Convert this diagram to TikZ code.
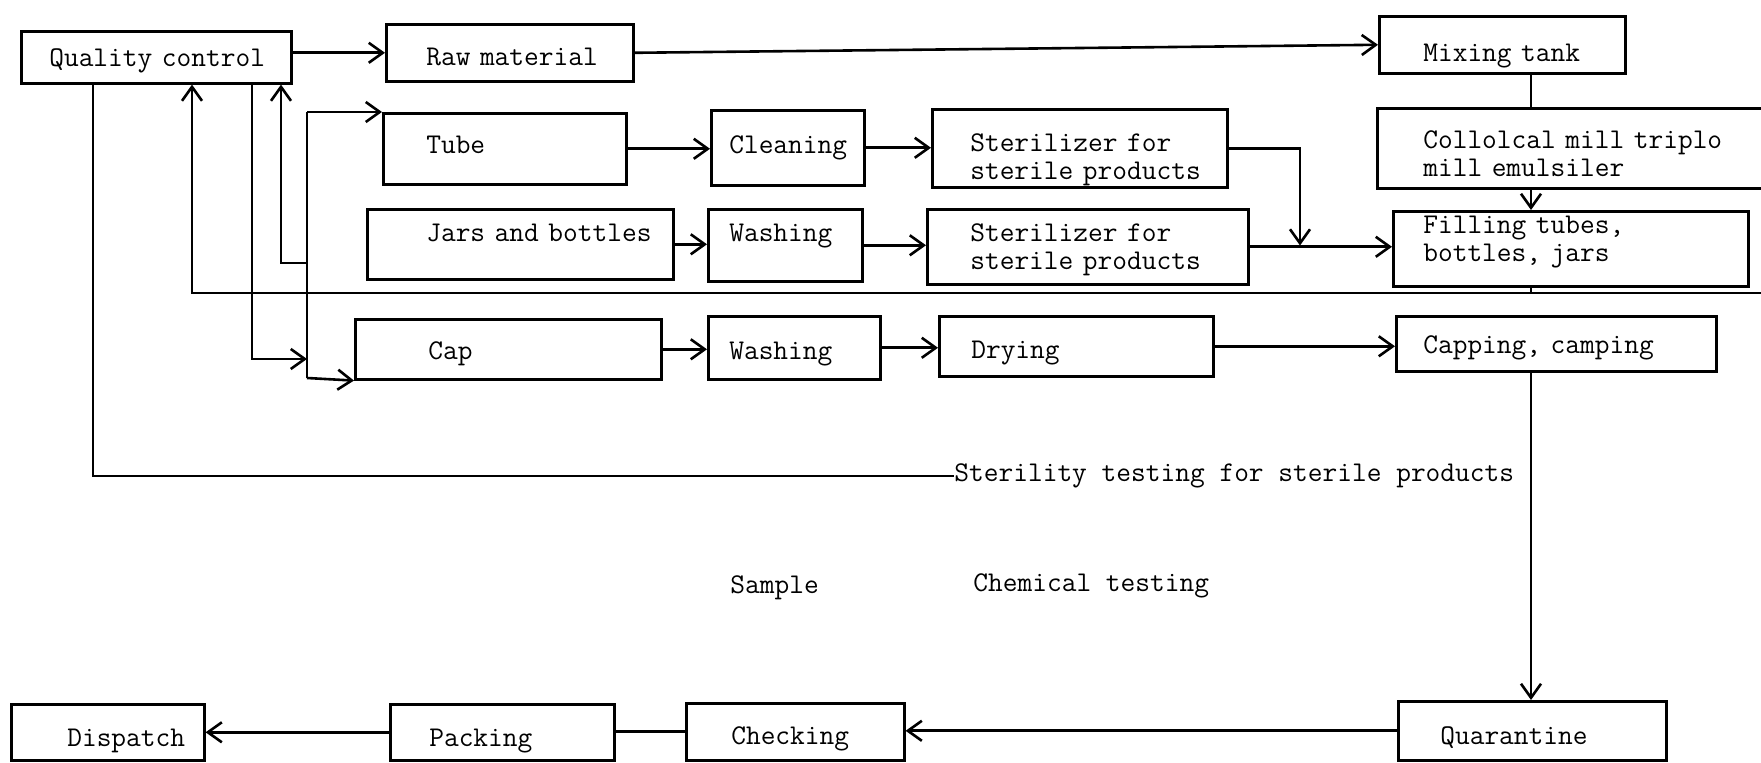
\documentclass[tikz,border=0pt]{standalone}
\usepackage{tikz}
\usetikzlibrary{arrows.meta}
\newdimen\pxu \pxu=0.5pt

\begin{document}
\begin{tikzpicture}[
    x=0.5pt, y=-0.5pt,
    font=\fontsize{14.3pt}{14pt}\selectfont\ttfamily,
    procbox/.style n args={4}{draw, line width=1.3pt, anchor=north west, inner xsep=0pt, inner ysep=0pt,
        align=left, text width=#1*\pxu, text height=#4*\pxu, text depth=(#2-#4)*\pxu,
        execute at begin node={\leftskip=#3\pxu\relax}},
    flow/.style={line width=1.3pt, -{Straight Barb[length=7pt,width=10pt]}},
    link/.style={line width=1.3pt},
    thinflow/.style={line width=0.8pt, -{Straight Barb[length=7pt,width=10pt,line width=1.3pt]}},
    plain/.style={anchor=west, inner sep=0pt}
]
\useasboundingbox (0,0) rectangle (1761,763);

\node [procbox={270}{52}{28}{35}] (qc) at (20,30) {Quality control};
\node [procbox={247}{57}{40}{41}] (raw) at (385,23) {Raw material};
\node [procbox={246}{57}{44}{45}] (mix) at (1378,15) {Mixing tank};
\node [procbox={243}{71}{43}{40}] (tube) at (382,112) {Tube};
\node [procbox={153}{75}{18}{43}] (clean) at (710,109) {Cleaning};
\node [procbox={295}{78}{38}{42}] (ster1) at (931,108) {Sterilizer for\\sterile products};
\node [procbox={399}{80}{46}{40}] (colloid) at (1376,107) {Collolcal mill triplo\\mill emulsiler};
\node [procbox={306}{70}{59}{32}] (jars) at (366,208) {Jars and bottles};
\node [procbox={154}{72}{21}{32}] (wash1) at (707,208) {Washing};
\node [procbox={321}{75}{43}{32}] (ster2) at (926,208) {Sterilizer for\\sterile products};
\node [procbox={355}{75}{30}{22}] (fill) at (1392,210) {Filling tubes,\\bottles, jars};
\node [procbox={306}{60}{73}{40}] (cap) at (354,318) {Cap};
\node [procbox={172}{63}{21}{43}] (wash2) at (707,315) {Washing};
\node [procbox={274}{60}{32}{42}] (dry) at (938,315) {Drying};
\node [procbox={320}{55}{27}{37}] (capping) at (1395,315) {Capping, camping};
\node [procbox={268}{59}{42}{43}] (quar) at (1397,700) {Quarantine};
\node [procbox={218}{57}{45}{41}] (check) at (685,702) {Checking};
\node [procbox={224}{56}{39}{42}] (pack) at (389,703) {Packing};
\node [procbox={193}{56}{56}{42}] (disp) at (10,703) {Dispatch};

\node [plain] (steril) at (954,476) {Sterility testing for sterile products};
\node [plain] (sample) at (730,588) {Sample};
\node [plain] (chem) at (973,586) {Chemical testing};

\coordinate (spine) at (1531,0);
\coordinate (xs) at (93,0);
\coordinate (xr) at (192,0);
\coordinate (xo) at (252,0);
\coordinate (xb) at (281,0);
\coordinate (busTop) at (307,112);
\coordinate (busMid) at (307,263);
\coordinate (busIn) at (307,359);
\coordinate (busBot) at (307,378);
\coordinate (retR) at (1761,293);
\coordinate (merge) at (1300,245.5);

\draw [flow] (raw.west -| qc.east) -- (raw.west);
\draw [flow] (raw.east) -- (mix.west);
\draw [link] (mix.south -| spine) -- (colloid.north -| spine);
\draw [flow] (colloid.south -| spine) -- (fill.north -| spine);
\draw [flow] (tube.east) -- (tube.east -| clean.west);
\draw [flow] (clean.east) -- (clean.east -| ster1.west);
\draw [flow] (ster1.east) -| (merge);
\draw [flow] (ster2.east) -- (ster2.east -| fill.west);
\draw [flow] (jars.east) -- (jars.east -| wash1.west);
\draw [flow] (wash1.east) -- (wash1.east -| ster2.west);
\draw [flow] (cap.east) -- (cap.east -| wash2.west);
\draw [flow] (wash2.east) -- (wash2.east -| dry.west);
\draw [flow] (dry.east) -- (dry.east -| capping.west);
\draw [thinflow] (capping.south -| spine) -- (quar.north -| spine);
\draw [flow] (quar.west) -- (quar.west -| check.east);
\draw [link] (check.west) -- (check.west -| pack.east);
\draw [flow] (pack.west) -- (pack.west -| disp.east);

\draw [link] (fill.south -| spine) -- (retR -| spine);
\draw [flow] (retR) -| (qc.south -| xr);
\draw [link] (busTop) -- (busBot);
\draw [flow] (busTop) -- (tube.north west);
\draw [flow] (busBot) -- (cap.south west);
\draw [flow] (qc.south -| xo) |- (busIn);
\draw [flow] (busMid) -| (qc.south -| xb);
\draw [line width=1pt] (qc.south -| xs) |- (steril.west);
\end{tikzpicture}
\end{document}
